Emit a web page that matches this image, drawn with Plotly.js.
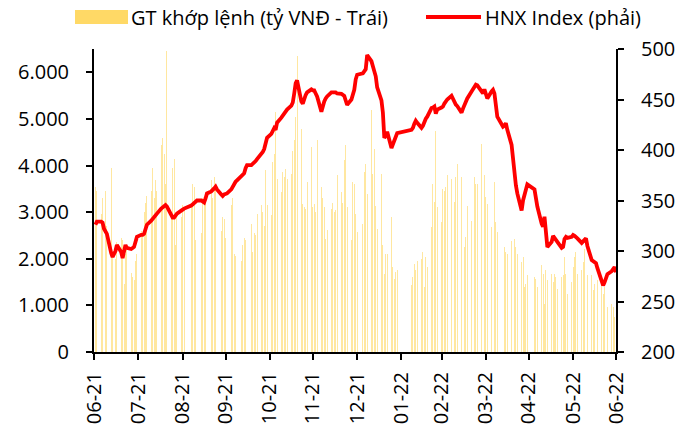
<!DOCTYPE html>
<html>
<head>
<meta charset="utf-8">
<script src="https://cdn.plot.ly/plotly-3.0.1.min.js"></script>
<style>html,body{margin:0;padding:0;background:#fff;}#chart{width:692px;height:430px;}</style>
</head>
<body>
<div id="chart"></div>
<script>
// ---- DATA ----
const startDate = '2021-07-01';
const endDate = '2022-06-30';
const holidays = ['2021-09-02','2021-09-03','2022-01-03','2022-01-31','2022-02-01','2022-02-02','2022-02-03','2022-02-04','2022-04-11','2022-05-02','2022-05-03'];

// GT khớp lệnh (tỷ VNĐ), one value per trading day
const gtValues = [
  // Jul-21
  3550,3450,2950,3300,4000,3450,2700,3950,2100,1950,2000,2350,2450,2400,1450,2100,2250,1700,1600,1550,1950,2100,
  // Aug-21
  2600,2550,3000,3200,3350,3450,3950,3300,3700,3450,4450,4600,4250,3600,6450,3000,3950,4150,2300,2950,2900,3150,
  // Sep-21
  3100,3150,3600,3550,2400,2500,2550,3300,3150,3200,4450,3700,3300,3750,3600,3550,2600,2900,2850,2450,
  // Oct-21
  2500,3150,3300,2100,2050,1850,1950,2300,2450,2400,2450,2750,2150,2550,2500,2950,3150,3000,2700,3900,3150,
  // Nov-21
  2930,4070,4250,5140,3710,3430,3860,3750,3930,3710,3820,4320,4540,5040,6360,4790,3180,3100,3070,3640,4390,3100,
  // Dec-21
  3180,3000,4540,3540,3300,3110,2430,2610,3070,3190,3000,3040,3790,3430,3200,4110,4430,3100,2400,3640,3610,2960,2570,
  // Jan-22
  2750,3860,4040,3400,5190,3820,4360,3140,2640,3820,2290,1680,2110,2100,2890,1820,1570,1710,1750,
  // Feb-22
  1430,1610,1890,1750,1960,2000,2140,1390,2040,1820,2680,3610,3210,4750,3110,2790,
  // Mar-22
  3500,3450,3540,3790,3710,4140,3210,3750,4040,3750,2790,2250,2460,3140,2800,3820,3750,3610,3610,4460,3610,3790,3320,
  // Apr-22
  3180,2680,2570,3640,2790,2570,2540,2250,2140,2100,2390,2110,2430,2250,2110,1930,2040,1390,1460,1650,
  // May-22
  1610,1570,1390,1860,1680,1040,1750,1540,1680,1500,1680,1610,1360,1610,1650,2040,1680,1250,1500,1820,
  // Jun-22
  2040,2140,1680,1750,1930,2210,1790,1650,1650,1320,1460,1360,1540,1460,1250,1390,1360,960,1040,960,750,1290
];

// HNX Index, one value per trading day
const hnxValues = [
  // Jul-21
  326,329,329,328,322,319,317,298,294,297,300,306,299,293,298,306,303,302,303,304,309,314,
  // Aug-21
  316,316,317,321,326,330,332,334,336,337,342,343,345,345.5,344,335,333,333,335,337,340,341,
  // Sep-21
  342,345,346,347,349,350,350,349,348,352,357,359,360,362,363.7,361,356,354.5,356,356.5,
  // Oct-21
  357,361,364,367,368.6,370,374,376,377,382,385,385,386,388,389,391,396,398,401,408,412,
  // Nov-21
  416,420,421.6,420,427,432,434,436,439,440,444,447,456,466,469,448,446,451,454.5,457,460,459,
  // Dec-21
  459,456,453,438,444,448,451,453,457,457.5,457,457,456,455.6,455,453.5,449,444.7,450,455,459.6,470,474.5,
  // Jan-22
  476,477.5,480,494,488,483,479,473,462,449,437,412,414,418,402,406,411,414,416.7,
  // Feb-22
  420,422,426,429,427,422,424,428,431,433,441.5,442,443,436,440,442,
  // Mar-22
  443,446,448,450,453.7,450,446.4,445,443.5,437,441,445,448,451,458,460.5,463,464.6,464,457,456,460,455,
  // Apr-22
  451,458,459.6,456,445,433,423,424,426.5,420,405,392,372,365,357,340,350,356,363,366,
  // May-22
  361,352,344,327,324,334,318,304,309,315,313,311,308,303,304,312,314,313,314,315.8,
  // Jun-22
  315,314,312.5,308,309,311,312.5,305,291,290,289,288,283,271,266,269,274,277,280,282,284,279
];

const monthTickDates = ['2021-06-30','2021-07-31','2021-08-31','2021-09-30','2021-10-31','2021-11-30','2021-12-31','2022-01-31','2022-02-28','2022-03-31','2022-04-30','2022-05-31','2022-06-30'];
const monthTickLabels = ['06-21','07-21','08-21','09-21','10-21','11-21','12-21','01-22','02-22','03-22','04-22','05-22','06-22'];

const barName = 'GT khớp lệnh (tỷ VNĐ - Trái)';
const lineName = 'HNX Index (phải)';

// ---- trading-day calendar ----
function pad(n){return (n<10?'0':'')+n;}
const tradingDays = [];
(function(){
  const d = new Date(startDate+'T00:00:00Z');
  const end = new Date(endDate+'T00:00:00Z');
  while (d <= end) {
    const wd = d.getUTCDay();
    const s = d.getUTCFullYear()+'-'+pad(d.getUTCMonth()+1)+'-'+pad(d.getUTCDate());
    if (wd !== 0 && wd !== 6 && holidays.indexOf(s) < 0) tradingDays.push(s);
    d.setUTCDate(d.getUTCDate()+1);
  }
})();

const FONT = '"Open Sans", "Noto Sans", Arial, sans-serif';
const FS = 20;

const bars = {
  type: 'bar', x: tradingDays, y: gtValues, name: barName, yaxis: 'y',
  width: 0.65*86400000,
  marker: {color: '#FFE7A0', line: {width: 0}},
  showlegend: false, hoverinfo: 'skip'
};
const line = {
  type: 'scatter', mode: 'lines', x: tradingDays, y: hnxValues, name: lineName, yaxis: 'y2',
  line: {color: '#FF0000', width: 3.8},
  showlegend: false, hoverinfo: 'skip'
};

// plot area in px: x 94..616, y 49..352
const PX0 = 94, PW = 522, PY1 = 352, PH = 303;
function px(x){return (x-PX0)/PW;}
function py(y){return (PY1-y)/PH;}
const LEGY = 17;

const axisCommon = {
  showline: true, linecolor: '#000', linewidth: 2,
  ticks: 'outside', ticklen: 6, tickwidth: 2, tickcolor: '#000',
  showgrid: false, zeroline: false,
  tickfont: {family: FONT, size: FS, color: '#000'},
  fixedrange: true
};

const layout = {
  width: 692, height: 430,
  margin: {l: PX0, r: 692-PX0-PW, t: PY1-PH, b: 430-PY1},
  paper_bgcolor: '#fff', plot_bgcolor: '#fff',
  separators: ',.',
  showlegend: false,
  bargap: 0,
  font: {family: FONT, size: FS, color: '#000'},
  xaxis: Object.assign({}, axisCommon, {
    type: 'date', range: ['2021-06-30', '2022-06-30'],
    tickmode: 'array', tickvals: monthTickDates, ticktext: monthTickLabels,
    tickangle: -90, ticklabelstandoff: 4
  }),
  yaxis: Object.assign({}, axisCommon, {
    range: [0, 6500], tickmode: 'linear', tick0: 0, dtick: 1000,
    tickformat: ',d', ticklabelstandoff: 13
  }),
  yaxis2: Object.assign({}, axisCommon, {
    overlaying: 'y', side: 'right', range: [200, 500],
    tickmode: 'linear', tick0: 200, dtick: 50, ticklabelstandoff: 13
  }),
  shapes: [
    {type: 'rect', xref: 'paper', yref: 'paper', x0: px(75), x1: px(128), y0: py(LEGY+7), y1: py(LEGY-7),
     fillcolor: '#FFD966', line: {width: 0}},
    {type: 'line', xref: 'paper', yref: 'paper', x0: px(426), x1: px(481), y0: py(LEGY), y1: py(LEGY),
     line: {color: '#FF0000', width: 4}}
  ],
  annotations: [
    {xref: 'paper', yref: 'paper', x: px(129), y: py(LEGY), xanchor: 'left', yanchor: 'middle',
     text: barName, showarrow: false, font: {family: FONT, size: FS, color: '#000'}},
    {xref: 'paper', yref: 'paper', x: px(483), y: py(LEGY), xanchor: 'left', yanchor: 'middle',
     text: lineName, showarrow: false, font: {family: FONT, size: FS, color: '#000'}}
  ]
};

Plotly.newPlot('chart', [bars, line], layout, {staticPlot: true, displayModeBar: false});
</script>
</body>
</html>
